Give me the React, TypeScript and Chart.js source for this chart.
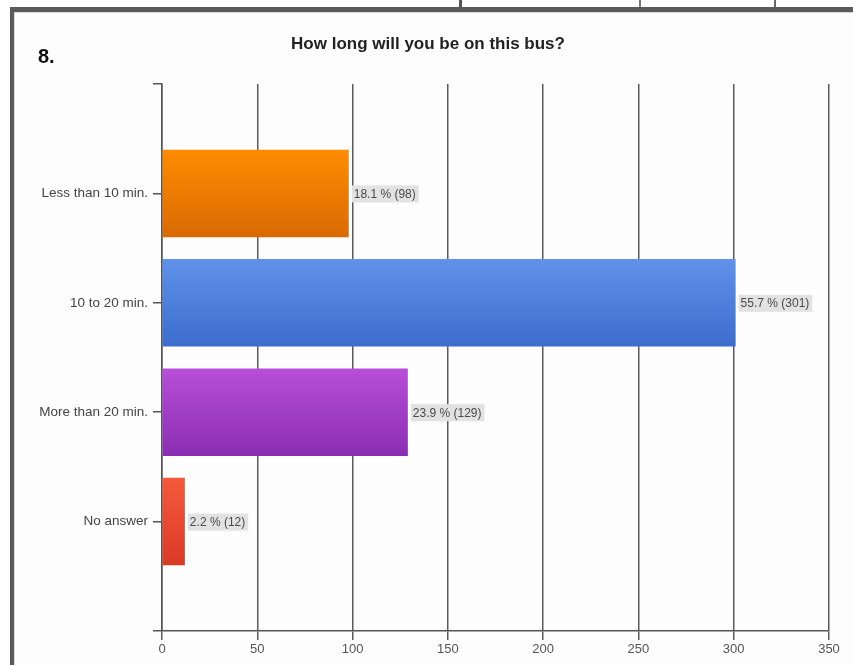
import React, { useEffect, useRef } from "react";
import { Chart, registerables } from "chart.js";

Chart.register(...registerables);

const questionNumber = "8.";
const chartTitle = "How long will you be on this bus?";
const categories = ["", "Less than 10 min.", "10 to 20 min.", "More than 20 min.", "No answer", ""];
const counts: (number | null)[] = [null, 98, 301, 129, 12, null];
const percents: (number | null)[] = [null, 18.1, 55.7, 23.9, 2.2, null];
const xMin = 0;
const xMax = 350;
const xStep = 50;

const barTopColors = ["#000", "#ff8c00", "#6092ea", "#b84fd9", "#f55a3c", "#000"];
const barBottomColors = ["#000", "#d96a04", "#3c6ccd", "#8a2db2", "#d93a26", "#000"];

const FONT = "'Liberation Sans', Arial, sans-serif";

const labelPlugin = {
  id: "valueLabels",
  afterDatasetsDraw(chart: any) {
    const ctx = chart.ctx;
    const meta = chart.getDatasetMeta(0);
    ctx.save();
    ctx.font = `12px ${FONT}`;
    ctx.textBaseline = "middle";
    ctx.textAlign = "left";
    meta.data.forEach((el: any, i: number) => {
      if (counts[i] == null) return;
      const text = `${percents[i]} % (${counts[i]})`;
      const w = ctx.measureText(text).width;
      const x = el.x + 3;
      const y = el.y;
      ctx.fillStyle = "#e2e2e2";
      ctx.fillRect(x, y - 8, w + 5, 17);
      ctx.fillStyle = "#4a4a4a";
      ctx.fillText(text, x + 2, y + 1);
    });
    ctx.restore();
  },
  afterDraw(chart: any) {
    const ctx = chart.ctx;
    ctx.save();
    ctx.fillStyle = "#222";
    ctx.textBaseline = "middle";
    ctx.textAlign = "center";
    ctx.font = `bold 17px ${FONT}`;
    ctx.fillText(chartTitle, 428, 44);
    ctx.textAlign = "left";
    ctx.textBaseline = "alphabetic";
    ctx.fillStyle = "#111";
    ctx.font = `bold 20px ${FONT}`;
    ctx.fillText(questionNumber, 38, 63);
    ctx.restore();
  },
};

export default function App() {
  const canvasRef = useRef<HTMLCanvasElement | null>(null);

  useEffect(() => {
    const canvas = canvasRef.current;
    if (!canvas) return;
    const chart = new Chart(canvas, {
      type: "bar",
      data: {
        labels: categories,
        datasets: [
          {
            data: counts as any,
            barPercentage: 0.8,
            categoryPercentage: 1.0,
            borderWidth: 0,
            backgroundColor: (c: any) => {
              const i = c.dataIndex;
              const ch = c.chart;
              const ys = ch.scales && ch.scales.y;
              if (!ys || c.type !== "data" || counts[i] == null || !ys._length) return barTopColors[i];
              const mid = ys.getPixelForValue(i);
              const g = ch.ctx.createLinearGradient(0, mid - 44, 0, mid + 44);
              g.addColorStop(0, barTopColors[i]);
              g.addColorStop(1, barBottomColors[i]);
              return g;
            },
          },
        ],
      },
      options: {
        indexAxis: "y",
        animation: false,
        responsive: false,
        maintainAspectRatio: false,
        layout: { padding: { left: 0, top: 84, right: 24, bottom: 0 } },
        plugins: {
          legend: { display: false },
          title: { display: false },
          tooltip: { enabled: false },
        },
        scales: {
          x: {
            type: "linear",
            min: xMin,
            max: xMax,
            ticks: {
              stepSize: xStep,
              color: "#555",
              font: { family: FONT, size: 13 },
              padding: 2,
            },
            grid: {
              color: "#5a5a5a",
              lineWidth: 1.5,
              tickLength: 9,
              tickColor: "#5a5a5a",
            },
            border: { display: true, color: "#555", width: 1.5 },
            afterFit: (s: any) => {
              s.height = 34;
            },
          },
          y: {
            type: "category",
            offset: false,
            ticks: {
              color: "#444",
              font: { family: FONT, size: 13.5 },
              padding: 5,
              autoSkip: false,
            },
            grid: {
              offset: false,
              drawOnChartArea: false,
              drawTicks: true,
              tickLength: 9,
              color: "#555",
              tickColor: "#555",
              lineWidth: 1.5,
            },
            border: { display: true, color: "#555", width: 1.5 },
            afterFit: (s: any) => {
              s.width = 162;
            },
          },
        },
      },
      plugins: [labelPlugin],
    });
    return () => chart.destroy();
  }, []);

  return (
    <div style={{ position: "absolute", left: 0, top: 0, width: 853, height: 665, background: "#fff", overflow: "hidden" }}>
      <div style={{ position: "absolute", left: 14, top: 12, right: 0, bottom: 0, background: "#fdfdfd" }} />
      <div style={{ position: "absolute", left: 459, top: 0, width: 3, height: 9, background: "#555" }} />
      <div style={{ position: "absolute", left: 639, top: 0, width: 2, height: 9, background: "#777" }} />
      <div style={{ position: "absolute", left: 774, top: 0, width: 2, height: 9, background: "#666" }} />
      <div style={{ position: "absolute", left: 10, top: 7, right: 0, height: 5, background: "#5a5a5a" }} />
      <div style={{ position: "absolute", left: 10, top: 7, width: 4, bottom: 0, background: "#5a5a5a" }} />
      <div style={{ position: "absolute", left: 14, top: 12, right: 0, height: 1, background: "#d8d8d8" }} />
      <div style={{ position: "absolute", left: 14, top: 12, width: 1, bottom: 0, background: "#d8d8d8" }} />
      <canvas
        ref={canvasRef}
        width={853}
        height={665}
        style={{ position: "absolute", left: 0, top: 0, width: 853, height: 665 }}
      />
    </div>
  );
}
